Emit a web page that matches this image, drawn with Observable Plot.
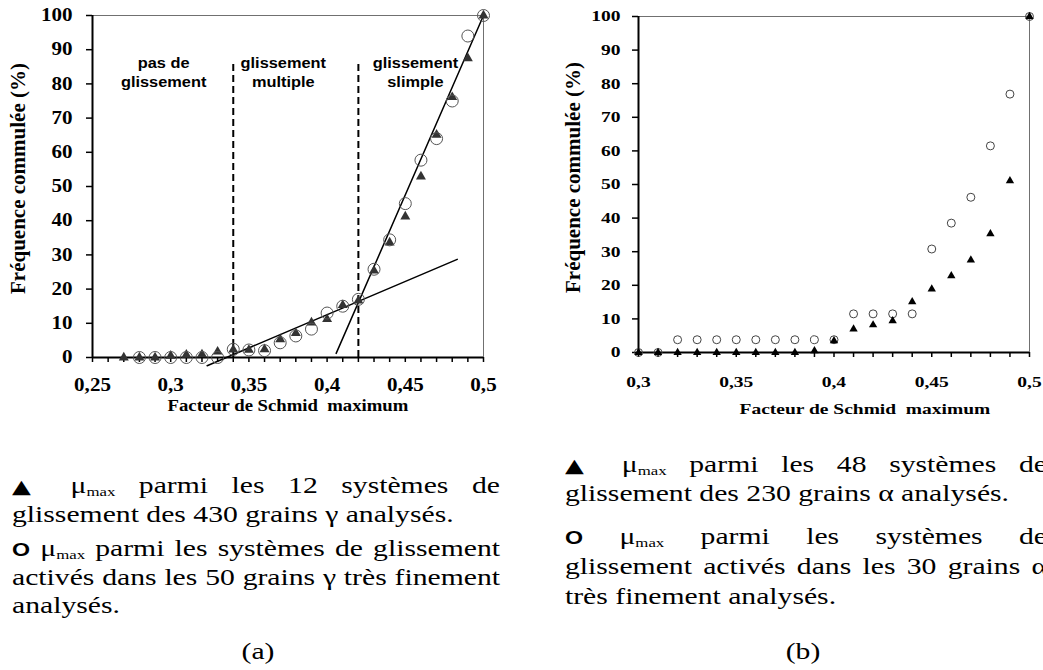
<!DOCTYPE html>
<html><head><meta charset="utf-8">
<script src="https://cdn.jsdelivr.net/npm/d3@7"></script>
<script src="https://cdn.jsdelivr.net/npm/@observablehq/plot@0.6"></script>
<style>
body{margin:0;width:1043px;height:670px;overflow:hidden;background:#fff;position:relative;font-family:"Liberation Serif","Times New Roman",serif;color:#000;}
.panel{position:absolute;top:0;}
.cap{position:absolute;font-size:23px;line-height:28px;height:28px;transform-origin:0 50%;}
.just{text-align:justify;text-align-last:justify;}
.tri{font-family:"DejaVu Sans",sans-serif;font-size:19px;}
.ring{font-family:"Liberation Sans",Arial,sans-serif;font-weight:bold;font-size:18px;}
.sub{font-size:13px;position:relative;top:3px;}
</style></head><body>
<div id="pa" class="panel" style="left:0px"></div>
<div id="pb" class="panel" style="left:560px"></div>
<div id="caps"></div>
<script>
// ---------- data ----------
const xTriA = [0.27,0.28,0.29,0.30,0.31,0.32,0.33,0.34,0.35,0.36,0.37,0.38,0.39,0.40,0.41,0.42,0.43,0.44,0.45,0.46,0.47,0.48,0.49,0.50];
const yTriA = [0,0,0,0.5,0.8,0.9,1.7,2.3,2.2,2.4,5.3,7.1,10.2,11.2,15.3,16.6,25.4,33.6,41.2,52.9,65.1,76.1,87.5,100];
const xCircA = [0.28,0.29,0.30,0.31,0.32,0.33,0.34,0.35,0.36,0.37,0.38,0.39,0.40,0.41,0.42,0.43,0.44,0.45,0.46,0.47,0.48,0.49,0.50];
const yCircA = [0,0,0,0,0,0,2.4,2.2,2.0,4.3,6.3,8.3,13.0,15.0,17.0,25.8,34.4,45.0,57.7,64.0,75.0,94.0,100];
const fitSteepX = [0.4058, 0.5];
const fitSteepY = [1.2, 100];
const fitShallowX = [0.3233, 0.4832];
const fitShallowY = [-2.4, 28.7];
const regionBounds = [0.34, 0.42];
const regionTop = 86.5;
const regionText = ["pas de\nglissement", "glissement\nmultiple", "glissement\nslimple"];
const regionX = [0.2955, 0.372, 0.4565];
const regionY = 83.6;

const xB = [0.30,0.31,0.32,0.33,0.34,0.35,0.36,0.37,0.38,0.39,0.40,0.41,0.42,0.43,0.44,0.45,0.46,0.47,0.48,0.49,0.50];
const yTriB = [0,0,0,0,0,0,0,0,0,0.5,3.5,7.0,8.2,9.4,15.1,18.9,22.8,27.5,35.3,51.1,100];
const yCircB = [0,0,3.8,3.8,3.8,3.8,3.8,3.8,3.8,3.8,3.8,11.5,11.5,11.5,11.5,30.8,38.5,46.2,61.5,76.9,100];

const xTickLabelsA = [0.25, 0.3, 0.35, 0.4, 0.45, 0.5];
const xTickLabelsB = [0.3, 0.35, 0.4, 0.45, 0.5];
const yTickLabels = [0,10,20,30,40,50,60,70,80,90,100];
const yTitle = "Fréquence commulée (%)";
const xTitle = "Facteur de Schmid  maximum";

const capA = ['<span class="tri">▲</span> μ<span class="sub">max</span> parmi les 12 systèmes de',
  'glissement des 430 grains γ analysés.',
  '<span class="ring">O</span> μ<span class="sub">max</span> parmi les systèmes de glissement',
  'activés dans les 50 grains γ très finement',
  'analysés.'];
const capAJust = [true,false,true,true,false];
const capAY = [486,515,549,578,606];
const capB = ['<span class="tri">▲</span> μ<span class="sub">max</span> parmi les 48 systèmes de',
  'glissement des 230 grains α analysés.',
  '<span class="ring">O</span> μ<span class="sub">max</span> parmi les systèmes de',
  'glissement activés dans les 30 grains α',
  'très finement analysés.'];
const capBJust = [true,false,true,true,false];
const capBY = [465,494,537,567,597];
const panelLabels = ["(a)", "(b)"];

// ---------- helpers ----------
const fmtComma = d => String(d).replace(".", ",");
const serif = "'Liberation Serif','Times New Roman',serif";
function isRotated(el, root) {
  for (let e = el; e && e !== root; e = e.parentNode) {
    const tr = e.getAttribute && e.getAttribute("transform");
    if (tr && tr.includes("rotate")) return true;
  }
  return false;
}
function stretch(svg, s) {
  svg.querySelectorAll("text").forEach(t => {
    if (isRotated(t, svg)) return;
    const tr = t.getAttribute("transform") || "";
    const b = t.getBBox();
    const anchor = getComputedStyle(t).textAnchor;
    const ax = anchor === "end" ? b.x + b.width : anchor === "middle" ? b.x + b.width / 2 : b.x;
    t.setAttribute("transform", `${tr} translate(${ax},0) scale(${s},1) translate(${-ax},0)`);
  });
}

// ---------- panel (a) ----------
const triA = xTriA.map((x, i) => ({x, y: yTriA[i]}));
const circA = xCircA.map((x, i) => ({x, y: yCircA[i]}));
const steep = fitSteepX.map((x, i) => ({x, y: fitSteepY[i]}));
const shallow = fitShallowX.map((x, i) => ({x, y: fitShallowY[i]}));

const A = Plot.plot({
  width: 520, height: 420,
  marginTop: 15, marginRight: 37, marginBottom: 63, marginLeft: 92,
  x: {domain: [0.25, 0.5]},
  y: {domain: [0, 100]},
  style: {background: "white", overflow: "visible", fontFamily: serif, color: "black"},
  marks: [
    Plot.frame({stroke: "#707070", strokeWidth: 1}),
    Plot.axisX({ticks: d3.range(25, 51).map(i => i / 100), tickSize: 5, strokeWidth: 1.5, tickFormat: () => "", label: null}),
    Plot.axisX({ticks: xTickLabelsA, tickSize: 0, tickPadding: 21, tickFormat: fmtComma, fontSize: 18, fontWeight: "bold", label: null}),
    Plot.axisY({ticks: yTickLabels, tickSize: 6, tickPadding: 14, strokeWidth: 1.5, fontSize: 18, fontWeight: "bold", label: null}),
    Plot.ruleY([0], {stroke: "black", strokeWidth: 2}),
    Plot.ruleX([0.25], {stroke: "black", strokeWidth: 2}),
    Plot.ruleX(regionBounds, {y1: 0, y2: regionTop, stroke: "black", strokeWidth: 2, strokeDasharray: "7,4"}),
    Plot.line(steep, {x: "x", y: "y", stroke: "black", strokeWidth: 1.5}),
    Plot.line(shallow, {x: "x", y: "y", stroke: "black", strokeWidth: 1.5}),
    Plot.dot(triA, {x: "x", y: "y", symbol: "triangle", r: 3.7, fill: "#333"}),
    Plot.dot(circA, {x: "x", y: "y", r: 6, stroke: "#555", strokeWidth: 1, fill: "none"}),
    Plot.text(regionText, {x: (d, i) => regionX[i], y: () => regionY, text: d => d, fontFamily: "'Liberation Sans',Arial,sans-serif", fontWeight: "bold", fontSize: 14, lineHeight: 1.36, lineAnchor: "middle", fill: "black"}),
    Plot.text([xTitle], {text: d => d, frameAnchor: "bottom", textAnchor: "middle", dy: 48, fontSize: 16, fontWeight: "bold", lineAnchor: "middle"}),
    Plot.text([yTitle], {text: d => d, frameAnchor: "left", textAnchor: "middle", rotate: -90, dx: -74, dy: -8, fontSize: 21, fontWeight: "bold", lineAnchor: "middle"})
  ]
});
document.getElementById("pa").appendChild(A);
stretch(A, 1.17);

// ---------- panel (b) ----------
const triB = xB.map((x, i) => ({x, y: yTriB[i]}));
const circB = xB.map((x, i) => ({x, y: yCircB[i]}));

const B = Plot.plot({
  width: 483, height: 420,
  marginTop: 16, marginRight: 14, marginBottom: 68, marginLeft: 78,
  x: {domain: [0.3, 0.5]},
  y: {domain: [0, 100]},
  style: {background: "white", overflow: "visible", fontFamily: serif, color: "black"},
  marks: [
    Plot.frame({stroke: "#707070", strokeWidth: 1}),
    Plot.axisX({ticks: d3.range(30, 51).map(i => i / 100), tickSize: 5, strokeWidth: 1.5, tickFormat: () => "", label: null}),
    Plot.axisX({ticks: xTickLabelsB, tickSize: 0, tickPadding: 24, tickFormat: fmtComma, fontSize: 15, fontWeight: "bold", label: null}),
    Plot.axisY({ticks: yTickLabels, tickSize: 6, tickPadding: 12, strokeWidth: 1.5, fontSize: 15, fontWeight: "bold", label: null}),
    Plot.ruleY([0], {stroke: "black", strokeWidth: 2}),
    Plot.ruleX([0.3], {stroke: "black", strokeWidth: 2}),
    Plot.dot(circB, {x: "x", y: "y", r: 4, stroke: "#444", strokeWidth: 1, fill: "none"}),
    Plot.dot(triB, {x: "x", y: "y", symbol: "triangle", r: 3.1, fill: "black"}),
    Plot.text([xTitle], {text: d => d, frameAnchor: "bottom", textAnchor: "middle", dx: 31, dy: 57, fontSize: 15, fontWeight: "bold", lineAnchor: "middle"}),
    Plot.text([yTitle], {text: d => d, frameAnchor: "left", textAnchor: "middle", rotate: -90, dx: -65, dy: -7, fontSize: 21, fontWeight: "bold", lineAnchor: "middle"})
  ]
});
document.getElementById("pb").appendChild(B);
stretch(B, 1.3);

// ---------- captions ----------
const caps = document.getElementById("caps");
const SX = 1.29;
function addCaption(lines, just, ys, left, width) {
  lines.forEach((html, i) => {
    const d = document.createElement("div");
    d.className = "cap" + (just[i] ? " just" : "");
    d.innerHTML = html;
    d.style.left = left + "px";
    d.style.top = (ys[i] - 14) + "px";
    d.style.width = (width / SX) + "px";
    d.style.transform = `scaleX(${SX})`;
    caps.appendChild(d);
  });
}
addCaption(capA, capAJust, capAY, 12, 488);
addCaption(capB, capBJust, capBY, 565, 482);
[[panelLabels[0], 258], [panelLabels[1], 803]].forEach(([t, cx]) => {
  const d = document.createElement("div");
  d.className = "cap";
  d.textContent = t;
  d.style.left = (cx - 60) + "px";
  d.style.width = "120px";
  d.style.textAlign = "center";
  d.style.top = (652 - 14) + "px";
  d.style.transformOrigin = "50% 50%";
  d.style.transform = `scaleX(${SX})`;
  caps.appendChild(d);
});
</script>
</body></html>
